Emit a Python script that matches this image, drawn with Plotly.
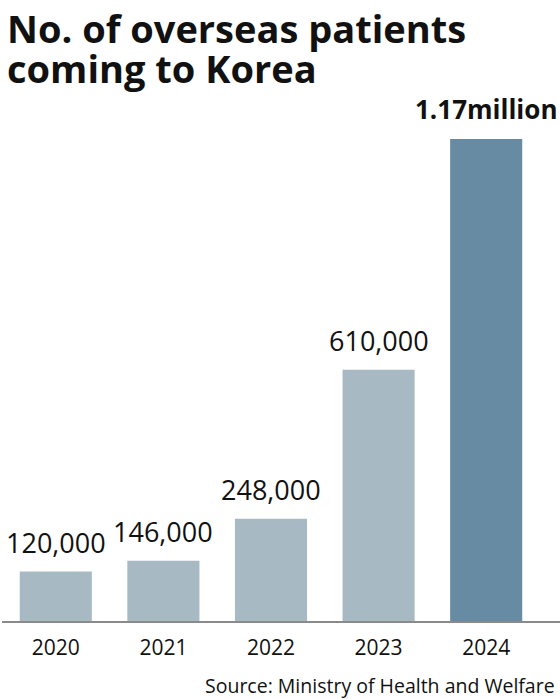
import plotly.graph_objects as go

years = ["2020", "2021", "2022", "2023", "2024"]
patients = [120000, 146000, 248000, 610000, 1170000]
value_labels = ["120,000", "146,000", "248,000", "610,000", "1.17million"]
bar_colors = ["#a7b9c3", "#a7b9c3", "#a7b9c3", "#a7b9c3", "#688ba4"]

title_lines = ["No. of overseas patients", "coming to Korea"]
source_text = "Source: Ministry of Health and Welfare"

FONT = "Open Sans"

fig = go.Figure(
    go.Bar(
        x=years,
        y=patients,
        marker=dict(color=bar_colors, line=dict(width=0)),
        hoverinfo="skip",
    )
)

annotations = []
for i, (val, lab) in enumerate(zip(patients, value_labels)):
    bold = i == len(years) - 1
    annotations.append(
        dict(
            x=i, y=val, xref="x", yref="y",
            text=f"<b>{lab}</b>" if bold else lab,
            showarrow=False, yanchor="bottom", yshift=9 if not bold else 10,
            font=dict(family=FONT, size=27 if not bold else 26, color="#111111"),
        )
    )

annotations.append(dict(
    x=0.006, y=1.0, xref="paper", yref="paper", xanchor="left", yanchor="top",
    yshift=100, text=f"<b>{title_lines[0]}</b>", showarrow=False,
    font=dict(family=FONT, size=38, color="#111111"),
))
annotations.append(dict(
    x=0.006, y=1.0, xref="paper", yref="paper", xanchor="left", yanchor="top",
    yshift=60, text=f"<b>{title_lines[1]}</b>", showarrow=False,
    font=dict(family=FONT, size=38, color="#111111"),
))
annotations.append(dict(
    x=0.995, y=0, xref="paper", yref="paper", xanchor="right", yanchor="middle",
    yshift=-64, text=source_text, showarrow=False,
    font=dict(family=FONT, size=19.5, color="#111111"),
))

fig.update_layout(
    width=560, height=699,
    margin=dict(l=2, r=0, t=100, b=78),
    paper_bgcolor="white", plot_bgcolor="white",
    bargap=0.33,
    showlegend=False,
    annotations=annotations,
    xaxis=dict(
        type="category", range=[-0.5, 4.686],
        showline=True, linecolor="#8a8a8a", linewidth=1.5,
        ticks="", showgrid=False, zeroline=False,
        tickfont=dict(family=FONT, size=21, color="#111111"),
        ticklabelstandoff=7,
    ),
    yaxis=dict(
        range=[0, 1264600], visible=False, showgrid=False, zeroline=False,
    ),
)

fig.write_html(
    "out.html",
    config={"displayModeBar": False, "staticPlot": True},
    post_script="document.body.style.margin='0';document.body.style.overflow='hidden';",
)
